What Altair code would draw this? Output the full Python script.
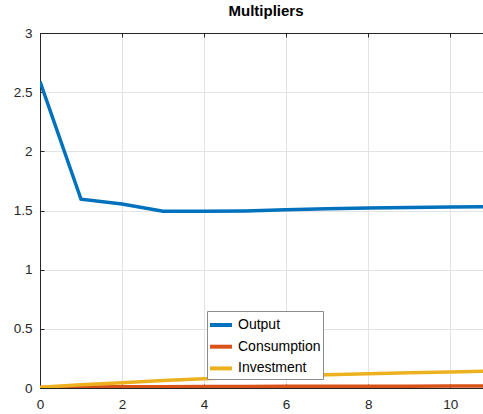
import altair as alt
import pandas as pd

# Impulse-response multipliers by period
periods = list(range(12))
output = [2.59, 1.595, 1.555, 1.493, 1.493, 1.496, 1.506, 1.514, 1.521, 1.526, 1.530, 1.532]
consumption = [0.004, 0.008, 0.010, 0.011, 0.012, 0.013, 0.014, 0.014, 0.015, 0.015, 0.016, 0.016]
investment = [0.006, 0.027, 0.045, 0.063, 0.079, 0.091, 0.101, 0.111, 0.121, 0.128, 0.135, 0.142]

series_names = ["Output", "Consumption", "Investment"]
series_colors = ["#0072BD", "#D95319", "#EDB120"]
x_ticks = [0, 2, 4, 6, 8, 10]
y_ticks = [0, 0.5, 1, 1.5, 2, 2.5, 3]

rows = []
for name, vals in zip(series_names, [output, consumption, investment]):
    for t, v in zip(periods, vals):
        rows.append({"period": t, "value": v, "series": name})
df = pd.DataFrame(rows)

FONT = "Liberation Sans"
INK = "#262626"
INWARD = {"expr": "-4"}

x_scale = alt.Scale(domain=[0, 10.8], nice=False, zero=False)
y_scale = alt.Scale(domain=[0, 3], nice=False)
color_scale = alt.Scale(domain=series_names, range=series_colors)

x_bottom = alt.Axis(
    orient="bottom", values=x_ticks, format="d", title=None,
    domain=True, domainColor=INK, domainWidth=1,
    ticks=True, tickSize=INWARD, tickColor=INK,
    grid=True, gridColor="#e3e3e3",
    labelFont=FONT, labelFontSize=13.5, labelColor=INK, labelPadding=13,
    labelFlush=False,
)
x_top = alt.Axis(
    orient="top", values=x_ticks, title=None, labels=False,
    domain=True, domainColor=INK, domainWidth=1,
    ticks=True, tickSize=INWARD, tickColor=INK, grid=False,
)
y_left = alt.Axis(
    orient="left", values=y_ticks, format="~g", title=None,
    domain=True, domainColor=INK, domainWidth=1,
    ticks=True, tickSize=INWARD, tickColor=INK,
    grid=True, gridColor="#e3e3e3",
    labelFont=FONT, labelFontSize=13.5, labelColor=INK, labelPadding=12,
    labelFlush=False,
)

legend = alt.Legend(
    title=None, orient="none", legendX=167, legendY=278,
    fillColor="white", strokeColor="#8c8c8c", padding=2,
    symbolType="M-1.1,0H1.1", symbolSize=400, symbolStrokeWidth=4,
    labelFont=FONT, labelFontSize=14, labelColor="black",
    labelOffset=5, rowPadding=1.7,
)

lines = alt.Chart(df).mark_line(strokeWidth=3.5, clip=True).encode(
    x=alt.X("period:Q", scale=x_scale, axis=x_bottom),
    y=alt.Y("value:Q", scale=y_scale, axis=y_left),
    color=alt.Color("series:N", scale=color_scale, legend=legend, sort=series_names),
)

# invisible copy that carries the top edge of the frame
frame_top = alt.Chart(df).mark_line(strokeOpacity=0, clip=True).encode(
    x=alt.X("period:Q", scale=x_scale, axis=x_top),
    y=alt.Y("value:Q", scale=y_scale, axis=y_left),
)

chart = alt.layer(lines, frame_top).resolve_axis(x="independent").properties(
    width=443,
    height=355,
    title=alt.TitleParams(
        "Multipliers", font=FONT, fontSize=15, fontWeight="bold",
        color="black", anchor="middle", offset=7, dx=4.5,
    ),
    autosize=alt.AutoSizeParams(type="none"),
    padding={"left": 40, "top": 33, "right": 0, "bottom": 26},
).configure_view(stroke=None).configure(background="white")

chart.save("out.html", embed_options={"renderer": "svg", "actions": False})
